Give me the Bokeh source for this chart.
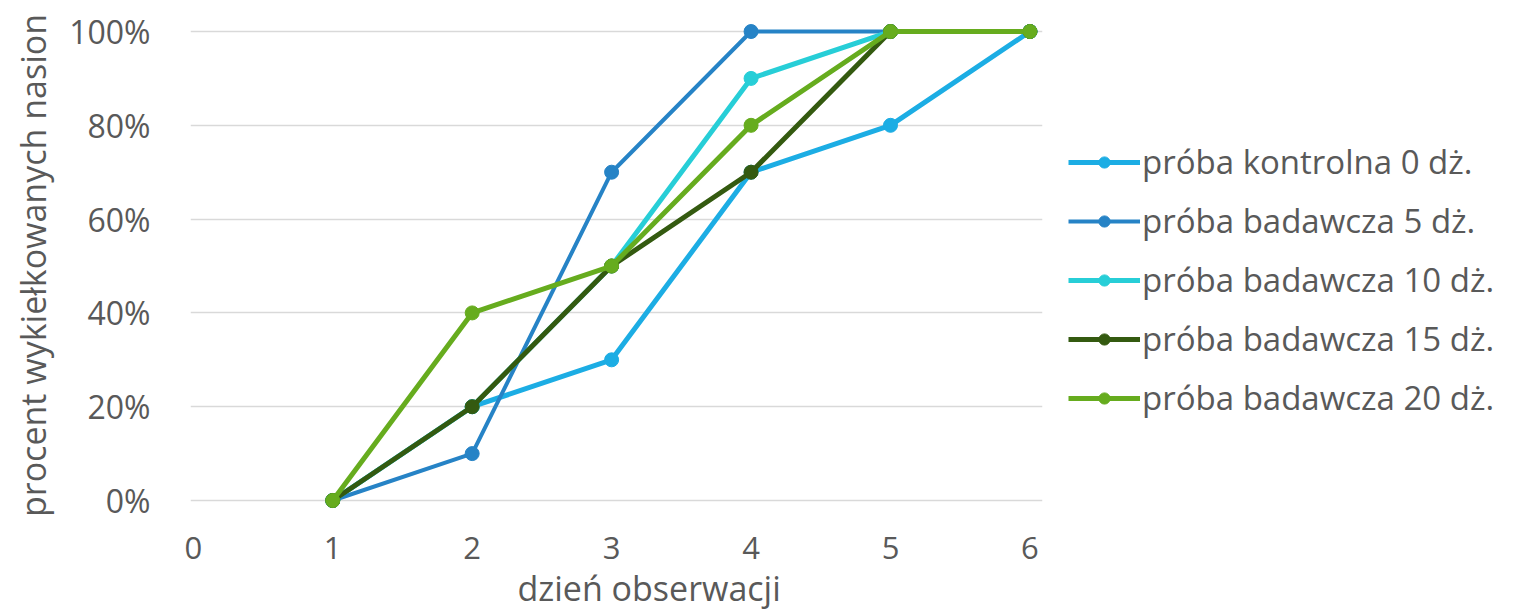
from bokeh.plotting import figure
from bokeh.models import FixedTicker, NumeralTickFormatter, Legend, LegendItem, Range1d, Title
from bokeh.embed import file_html
from bokeh.resources import INLINE

days = [1, 2, 3, 4, 5, 6]
series_names = ["próba kontrolna 0 dż.", "próba badawcza 5 dż.", "próba badawcza 10 dż.",
                "próba badawcza 15 dż.", "próba badawcza 20 dż."]
kontrolna_0 = [0.0, 0.2, 0.3, 0.7, 0.8, 1.0]
badawcza_5 = [0.0, 0.1, 0.7, 1.0, 1.0, 1.0]
badawcza_10 = [0.0, 0.2, 0.5, 0.9, 1.0, 1.0]
badawcza_15 = [0.0, 0.2, 0.5, 0.7, 1.0, 1.0]
badawcza_20 = [0.0, 0.4, 0.5, 0.8, 1.0, 1.0]
x_ticks = [0, 1, 2, 3, 4, 5, 6]
y_ticks = [0.0, 0.2, 0.4, 0.6, 0.8, 1.0]
x_title = "dzień obserwacji"
y_title = "procent wykiełkowanych nasion"

all_values = [kontrolna_0, badawcza_5, badawcza_10, badawcza_15, badawcza_20]
colors = ["#1CADE4", "#2683C6", "#27CED7", "#345A10", "#66AC1E"]
widths = [5, 4, 5, 5, 5]

FONT = "Open Sans"
GRAY = "#595959"

p = figure(frame_width=852, frame_height=490, output_backend="svg", toolbar_location=None,
           x_range=Range1d(-0.02, 6.09), y_range=Range1d(-0.0213, 1.0235),
           min_border_left=190, min_border_right=0, min_border_top=20, min_border_bottom=0)
p.outline_line_color = None
p.background_fill_color = "white"

p.xgrid.grid_line_color = None
p.ygrid.grid_line_color = "#D9D9D9"
p.ygrid.grid_line_width = 1.5

for ax in (p.xaxis, p.yaxis):
    ax.axis_line_color = None
    ax.major_tick_line_color = None
    ax.minor_tick_line_color = None
    ax.major_label_text_font = FONT
    ax.major_label_text_font_size = "32px"
    ax.major_label_text_color = GRAY
    ax.axis_label_text_font = FONT
    ax.axis_label_text_font_size = "34px"
    ax.axis_label_text_color = GRAY
    ax.axis_label_text_font_style = "normal"

p.xaxis.major_label_text_font_size = "31px"
p.xaxis.ticker = FixedTicker(ticks=x_ticks)
p.yaxis.ticker = FixedTicker(ticks=y_ticks)
p.ygrid.ticker = FixedTicker(ticks=y_ticks)
p.yaxis.formatter = NumeralTickFormatter(format="0%")
p.xaxis.major_label_standoff = 20
p.yaxis.major_label_standoff = 34
p.yaxis.axis_label = y_title
p.yaxis.axis_label_standoff = 10

xt = Title(text=x_title, align="left", offset=327, standoff=2,
           text_font=FONT, text_font_size="34px", text_color=GRAY, text_font_style="normal")
p.add_layout(xt, "below")

items = []
for name, vals, c, w in zip(series_names, all_values, colors, widths):
    l = p.line(days, vals, line_color=c, line_width=w)
    s = p.scatter(days, vals, size=14, fill_color=c, line_color=c)
    items.append(LegendItem(label=name, renderers=[l, s]))

legend = Legend(items=items, location=(26, 90), orientation="vertical",
                label_text_font=FONT, label_text_font_size="33px", label_text_color=GRAY,
                glyph_width=72, glyph_height=28, label_standoff=2, spacing=14,
                padding=0, margin=0, border_line_color=None, background_fill_alpha=0)
p.add_layout(legend, "right")

open("out.html", "w").write(file_html(p, INLINE))
